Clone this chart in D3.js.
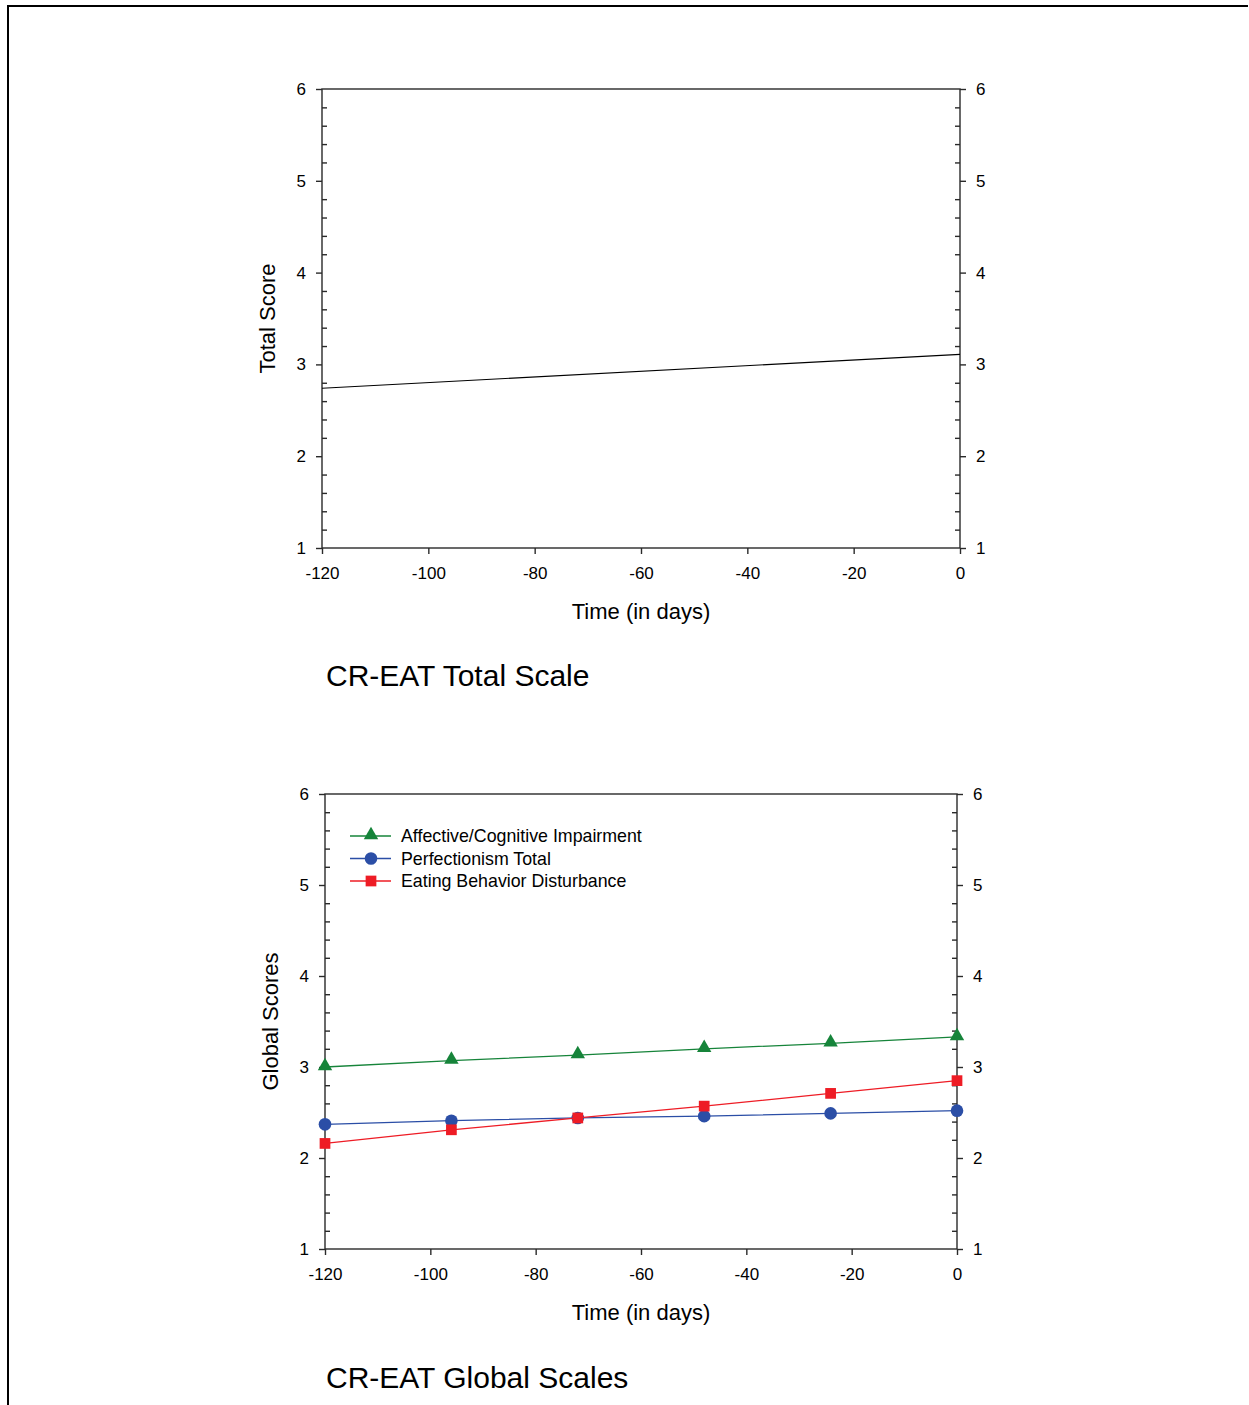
<!DOCTYPE html>
<html>
<head>
<meta charset="utf-8">
<script src="https://cdn.jsdelivr.net/npm/d3@7"></script>
<style>
  html, body { margin: 0; padding: 0; background: #fff; }
  svg { display: block; font-family: "Liberation Sans", Arial, sans-serif; }
</style>
</head>
<body>
<svg id="chart" width="1249" height="1405"></svg>
<script>
// Time points (days before reference)
const totalDays = [-120, 0];
const totalScore = [2.74, 3.11];

const globalDays = [-120, -96, -72, -48, -24, 0];
const affective = [3.00, 3.07, 3.13, 3.20, 3.26, 3.33];
const perfectionism = [2.37, 2.41, 2.44, 2.46, 2.49, 2.52];
const eating = [2.16, 2.31, 2.44, 2.57, 2.71, 2.85];

const xTicks = [-120, -100, -80, -60, -40, -20, 0];
const yTicks = [1, 2, 3, 4, 5, 6];
const yMinor = d3.range(1, 6.001, 0.2).map(v => +v.toFixed(1)).filter(v => !yTicks.includes(v));

const seriesNames = ["Affective/Cognitive Impairment", "Perfectionism Total", "Eating Behavior Disturbance"];
const seriesColors = ["#16843a", "#2b4ea6", "#ee1c25"];
const seriesShapes = [d3.symbolTriangle, d3.symbolCircle, d3.symbolSquare];
const symSizes = [90, 125, 115];

const svg = d3.select("#chart");
const axisColor = "#2a2a2a";
const plain = d => String(d);

// page frame
svg.append("line").attr("x1", 8).attr("x2", 8).attr("y1", 5).attr("y2", 1405)
  .attr("stroke", "#000").attr("stroke-width", 2);
svg.append("line").attr("x1", 7).attr("x2", 1248).attr("y1", 6).attr("y2", 6)
  .attr("stroke", "#000").attr("stroke-width", 2);

function panel(cfg) {
  const x = d3.scaleLinear().domain([-120, 0]).range([cfg.left, cfg.right]);
  const y = d3.scaleLinear().domain([1, 6]).range([cfg.bottom, cfg.top]);
  const g = svg.append("g");

  // plot frame
  g.append("rect").attr("x", cfg.left).attr("y", cfg.top)
    .attr("width", cfg.right - cfg.left).attr("height", cfg.bottom - cfg.top)
    .attr("fill", "none").attr("stroke", axisColor).attr("stroke-width", 1.4);

  // y axes: major ticks outward, minor ticks inward
  const left = g.append("g").attr("transform", `translate(${cfg.left},0)`)
    .call(d3.axisLeft(y).tickValues(yTicks).tickSize(6).tickPadding(10).tickFormat(plain));
  left.append("g").call(d3.axisRight(y).tickValues(yMinor).tickSize(5).tickFormat(""));

  const right = g.append("g").attr("transform", `translate(${cfg.right},0)`)
    .call(d3.axisRight(y).tickValues(yTicks).tickSize(6).tickPadding(10).tickFormat(plain));
  right.append("g").call(d3.axisLeft(y).tickValues(yMinor).tickSize(5).tickFormat(""));

  g.append("g").attr("transform", `translate(0,${cfg.bottom})`)
    .call(d3.axisBottom(x).tickValues(xTicks).tickSize(6).tickPadding(13).tickFormat(plain));

  g.selectAll(".domain").remove();
  g.selectAll(".tick line").attr("stroke", axisColor).attr("stroke-width", 1.4);
  g.selectAll(".tick text").attr("font-size", 17).attr("fill", "#000")
    .attr("font-family", "Liberation Sans, Arial, sans-serif");

  // axis titles
  g.append("text").attr("transform", `translate(${cfg.yTitleX},${(cfg.top + cfg.bottom) / 2}) rotate(-90)`)
    .attr("text-anchor", "middle").attr("font-size", 22).text(cfg.yTitle);
  g.append("text").attr("x", (cfg.left + cfg.right) / 2).attr("y", cfg.bottom + 71)
    .attr("text-anchor", "middle").attr("font-size", 22).text("Time (in days)");

  // panel caption
  g.append("text").attr("x", 326).attr("y", cfg.captionY)
    .attr("font-size", 30).text(cfg.caption);

  return { g, x, y };
}

// Total scale panel
const p1 = panel({ left: 322, right: 960, top: 89, bottom: 548, yTitle: "Total Score", yTitleX: 275,
  caption: "CR-EAT Total Scale", captionY: 686 });
p1.g.append("path")
  .datum(totalDays.map((d, i) => [d, totalScore[i]]))
  .attr("fill", "none").attr("stroke", "#000").attr("stroke-width", 1.2)
  .attr("d", d3.line().x(d => p1.x(d[0])).y(d => p1.y(d[1])));

// Global scales panel
const p2 = panel({ left: 325, right: 957, top: 794, bottom: 1249, yTitle: "Global Scores", yTitleX: 278,
  caption: "CR-EAT Global Scales", captionY: 1388 });

[affective, perfectionism, eating].forEach((vals, k) => {
  const pts = globalDays.map((d, i) => [d, vals[i]]);
  p2.g.append("path").datum(pts)
    .attr("fill", "none").attr("stroke", seriesColors[k]).attr("stroke-width", 1.3)
    .attr("d", d3.line().x(d => p2.x(d[0])).y(d => p2.y(d[1])));
  p2.g.selectAll(null).data(pts).enter().append("path")
    .attr("transform", d => `translate(${p2.x(d[0])},${p2.y(d[1]) - (k === 0 ? 1 : 0)})`)
    .attr("d", d3.symbol().type(seriesShapes[k]).size(symSizes[k]))
    .attr("fill", seriesColors[k]);
});

// legend
const legend = p2.g.append("g");
seriesNames.forEach((name, k) => {
  const ly = 836 + k * 22.5;
  legend.append("line").attr("x1", 350).attr("x2", 391).attr("y1", ly).attr("y2", ly)
    .attr("stroke", seriesColors[k]).attr("stroke-width", 1.3);
  legend.append("path").attr("transform", `translate(371,${ly - (k === 0 ? 1 : 0)})`)
    .attr("d", d3.symbol().type(seriesShapes[k]).size(symSizes[k]))
    .attr("fill", seriesColors[k]);
  legend.append("text").attr("x", 401).attr("y", ly + 6).attr("font-size", 17.8).text(name);
});
</script>
</body>
</html>
